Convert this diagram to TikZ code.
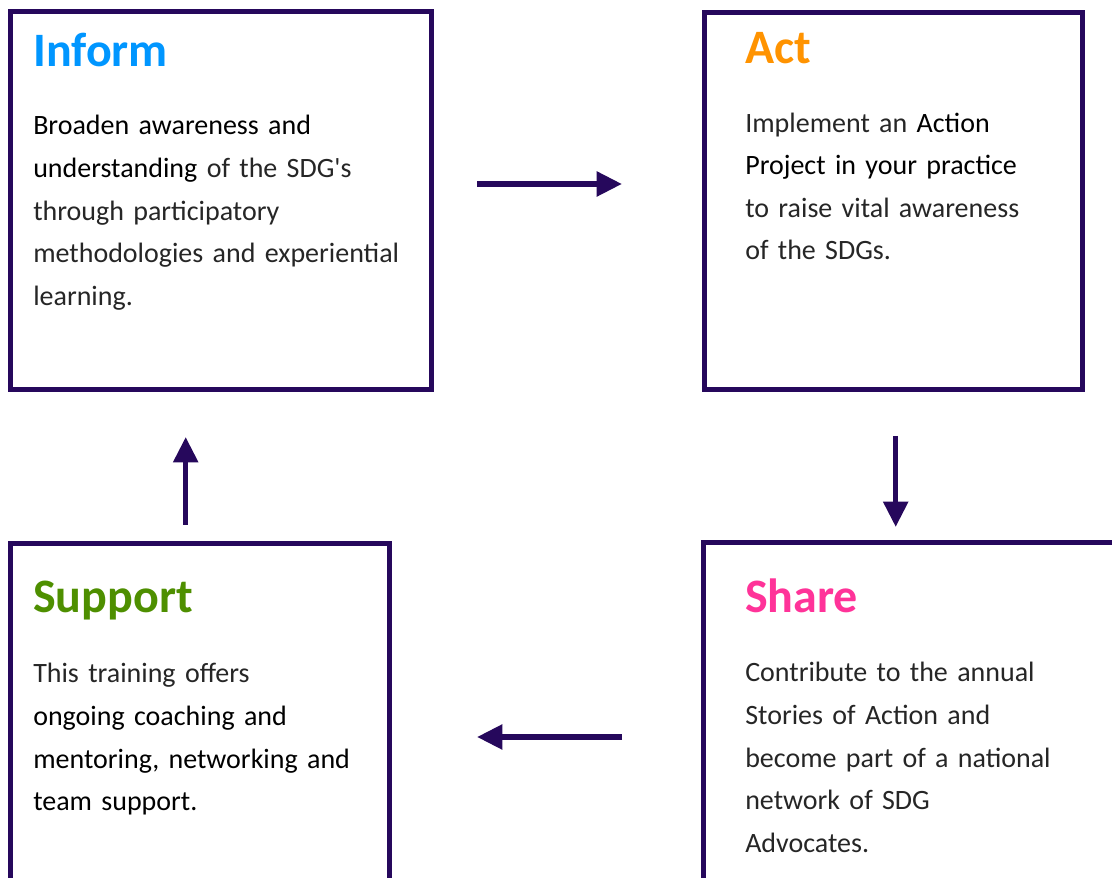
\documentclass[tikz,border=0pt]{standalone}
\usepackage{fontspec}
\setmainfont{Carlito}
\usetikzlibrary{arrows.meta,shadows}

\definecolor{frame}{RGB}{38,8,92}
\definecolor{informblue}{RGB}{0,150,255}
\definecolor{actorange}{RGB}{255,147,0}
\definecolor{supportgreen}{RGB}{78,143,0}
\definecolor{sharepink}{RGB}{255,51,153}
\newcommand{\keyph}[1]{{\color{black}#1}}

\begin{document}
\begin{tikzpicture}[x=0.75pt,y=0.75pt,
  box/.style={draw=frame,line width=3.75pt,fill=white,inner sep=0pt,outer sep=0pt,
    drop shadow={shadow xshift=2pt,shadow yshift=-2pt,opacity=0.18}},
  title/.style={anchor=base west,inner sep=0pt,font=\fontsize{36}{40}\selectfont\bfseries},
  body/.style={anchor=base west,inner sep=0pt,text width=300pt,align=left,
    text=black!85,font=\fontsize{21}{31.9}\selectfont},
  flow/.style={draw=frame,line width=4.1pt,-{Triangle[length=19pt,width=18pt]}}]
\useasboundingbox (0,0) rectangle (1112,877);
\node[box,minimum width=315.4pt,minimum height=283.5pt] (inform) at (220.75,676.5) {};
\node[box,minimum width=283.5pt,minimum height=283.1pt] (act) at (893.5,676.25) {};
\node[box,minimum width=283.9pt,minimum height=283.5pt] (support) at (200.25,144.5) {};
\node[box,minimum width=315pt,minimum height=283.5pt] (share) at (913.5,145.5) {};

\node[title,text=informblue] (informtitle) at ([shift={(22.5,-55.5)}]inform.north west) {Inform};
\node[body] (informtext) at ([shift={(22.5,-123.5)}]inform.north west)
  {\keyph{Broaden awareness and}\\ \keyph{understanding} of the SDG\textquotesingle s\\ through participatory\\ methodologies and experiential\\ learning.};
\node[title,text=actorange] (acttitle) at ([shift={(40.5,-51)}]act.north west) {Act};
\node[body] (acttext) at ([shift={(40.5,-120)}]act.north west)
  {Implement an \keyph{Action}\\ \keyph{Project in your practice}\\ to raise vital awareness\\ of the SDGs.};
\node[title,text=supportgreen] (supporttitle) at ([shift={(22,-69.5)}]support.north west) {Support};
\node[body] (supporttext) at ([shift={(22,-139.5)}]support.north west)
  {This training offers\\ \keyph{ongoing coaching and}\\ \keyph{mentoring, networking and}\\ \keyph{team support.}};
\node[title,text=sharepink] (sharetitle) at ([shift={(41.5,-70.5)}]share.north west) {Share};
\node[body] (sharetext) at ([shift={(41.5,-139.5)}]share.north west)
  {Contribute to the annual\\ Stories of Action and\\ become part of a national\\ network of SDG\\ Advocates.};

% the cycle
\draw[flow] ([shift={(46,16.5)}]inform.east) -- ([shift={(-82.5,16.75)}]act.west);
\draw[flow] ([shift={(2.2,-46.5)}]act.south) -- ([shift={(192.2,15.5)}]share.north west);
\draw[flow] ([shift={(-81.5,-194.5)}]share.north west) -- ([shift={(87.5,-193.5)}]support.north east);
\draw[flow] ([shift={(-14.55,18.5)}]support.north) -- ([shift={(-35.05,-47.5)}]inform.south);
\end{tikzpicture}
\end{document}
